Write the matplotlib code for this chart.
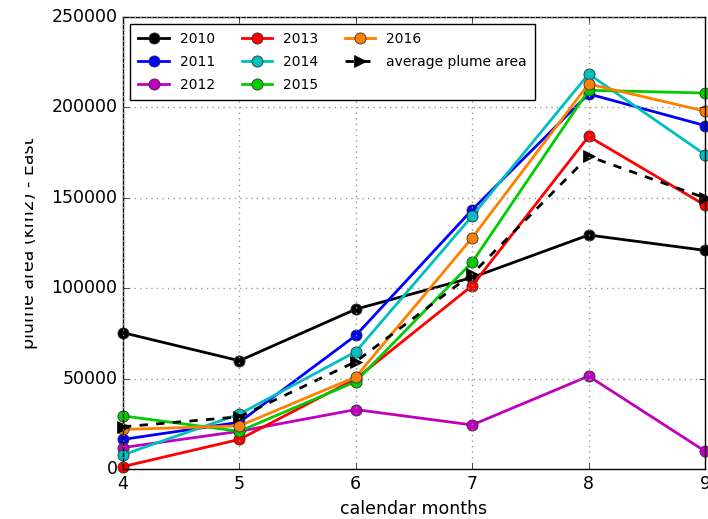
import numpy as np
import matplotlib
matplotlib.use("Agg")
import matplotlib.pyplot as plt
from matplotlib.transforms import Bbox

plt.style.use('classic')

months = [4, 5, 6, 7, 8, 9]

# plume area per year (km2), east side
area_2010 = [75500, 60000, 88500, 106000, 129500, 121000]
area_2011 = [16500, 26000, 74000, 143500, 207500, 190000]
area_2012 = [12000, 21000, 33000, 24500, 51500, 10000]
area_2013 = [1500, 16500, 50000, 101500, 184000, 146000]
area_2014 = [8000, 30500, 65000, 140000, 218500, 174000]
area_2015 = [29500, 21000, 48500, 114500, 209500, 208000]
area_2016 = [22000, 24000, 51000, 128000, 213000, 198000]
area_avg = [23500, 29000, 59500, 108000, 173000, 150000]

years = ['2010', '2011', '2012', '2013', '2014', '2015', '2016']
series = [area_2010, area_2011, area_2012, area_2013, area_2014, area_2015, area_2016]
colors = ['k', 'b', 'm', 'r', 'c', '#00cc00', '#ff8000']

fig = plt.figure(figsize=(7.08, 5.19), dpi=100, facecolor='white')
ax = fig.add_axes([0.1737, 0.0958, 0.8221, 0.8714])
ax.set_facecolor('white')

for yr, vals, c in zip(years, series, colors):
    ax.plot(months, vals, '-o', color=c, lw=2, markersize=8,
            markeredgewidth=0.6, markeredgecolor='#333333', label=yr, clip_on=False)
ax.plot(months, area_avg, 'k-->', lw=2, markersize=8, label='average plume area', clip_on=False)

ax.set_xlim(4, 9)
ax.set_ylim(0, 250000)
ax.set_xticks(months)
ax.set_yticks(np.arange(0, 250001, 50000))
ax.tick_params(labelsize=12.5)
ax.grid(True, color='0.6', linestyle=':', linewidth=1)
ax.set_xlabel('calendar months', fontsize=12.5)

# y label sits partly off the left edge, its top half trimmed
ylab = fig.text(38 / 708, 1 - 243 / 519, 'plume area (km2) - East', rotation=90,
                ha='right', va='center', fontsize=12.5)
ylab.set_clip_box(Bbox.from_extents(25, 0, 708, 519))
ylab.set_clip_on(True)

leg = ax.legend(loc='upper left', ncol=3, fontsize=10, numpoints=1,
                handlelength=2.2, handletextpad=0.8, columnspacing=1.9,
                labelspacing=0.62, borderpad=0.6, borderaxespad=0.5)
leg.get_frame().set_linewidth(1)

fig.savefig('out.png', dpi=100, facecolor='white')
